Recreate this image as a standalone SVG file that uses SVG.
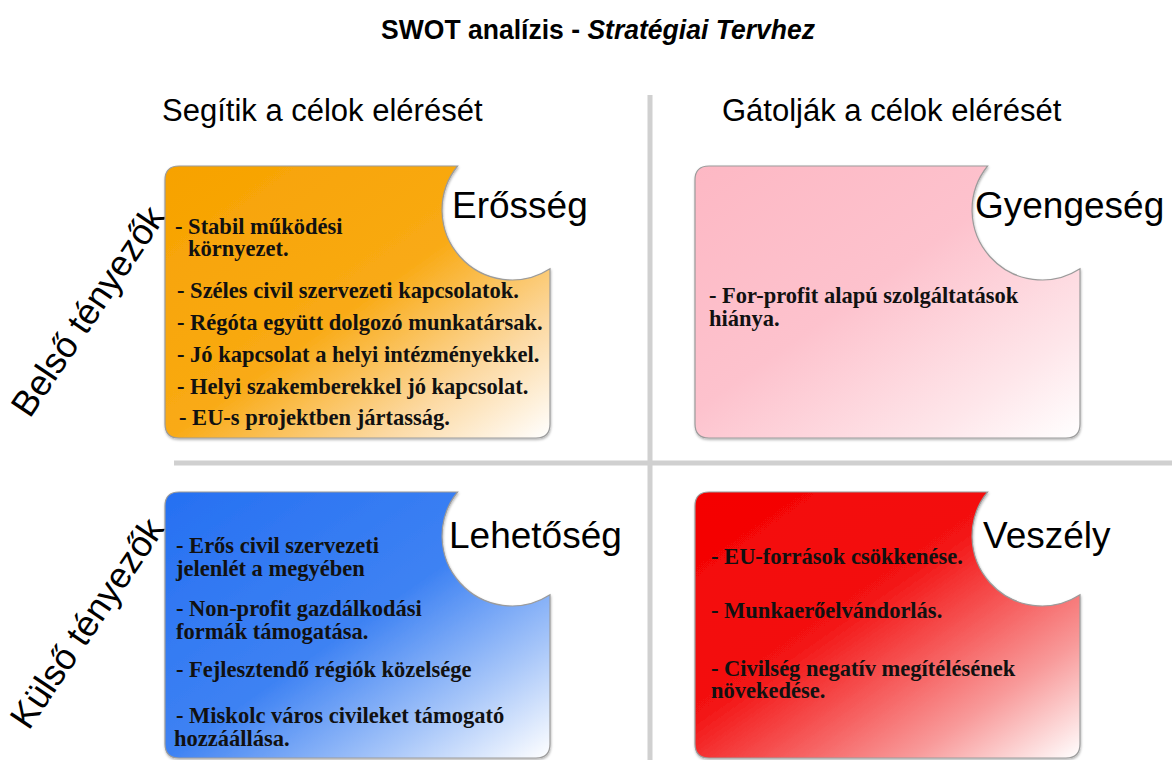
<svg xmlns="http://www.w3.org/2000/svg" width="1172" height="760" viewBox="0 0 1172 760">
<style>
.title{font-family:"Liberation Sans",Arial,sans-serif;font-weight:bold;font-size:28px;fill:#000}
.head{font-family:"Liberation Sans",Arial,sans-serif;font-size:31px;fill:#000}
.side{font-family:"Liberation Sans",Arial,sans-serif;font-size:36px;fill:#000}
.lbl{font-family:"Liberation Sans",Arial,sans-serif;font-size:37px;fill:#000}
.body{font-family:"Liberation Serif","Times New Roman",serif;font-weight:bold;font-size:22.5px;fill:#111}
.card{stroke:#9b9b9b;stroke-width:1.2;filter:url(#sh)}
.div{stroke:#d0d0d0;stroke-width:5;fill:none}
</style>
<defs>
<filter id="sh" x="-5%" y="-5%" width="110%" height="110%">
<feDropShadow dx="0.5" dy="1.5" stdDeviation="1" flood-color="#000" flood-opacity="0.3"/>
</filter>
<path id="cardT" d="M14,0 H292.6 A70,70 0 0 0 385,102.8 V258 Q385,272 371,272 H14 Q0,272 0,258 V14 Q0,0 14,0 Z"/>
<path id="cardB" d="M14,0 H292.6 A70,70 0 0 0 385,102.8 V252 Q385,266 371,266 H14 Q0,266 0,252 V14 Q0,0 14,0 Z"/>
<linearGradient id="gO" x1="0" y1="0" x2="1" y2="1">
<stop offset="0" stop-color="#F7A200"/><stop offset="0.5" stop-color="#F9AA14"/><stop offset="0.78" stop-color="#FCD9A2"/><stop offset="1" stop-color="#FFFFFF"/>
</linearGradient>
<linearGradient id="gP" x1="0" y1="0" x2="1" y2="1">
<stop offset="0" stop-color="#FDB8C4"/><stop offset="0.45" stop-color="#FDC2CD"/><stop offset="0.8" stop-color="#FEE6EA"/><stop offset="1" stop-color="#FFFFFF"/>
</linearGradient>
<linearGradient id="gB" x1="0" y1="0" x2="1" y2="1">
<stop offset="0" stop-color="#2670F2"/><stop offset="0.5" stop-color="#3E82F3"/><stop offset="0.78" stop-color="#A7C6F9"/><stop offset="1" stop-color="#FFFFFF"/>
</linearGradient>
<linearGradient id="gR" x1="0" y1="0" x2="1" y2="1">
<stop offset="0" stop-color="#F50000"/><stop offset="0.42" stop-color="#F31212"/><stop offset="0.78" stop-color="#F89A9A"/><stop offset="1" stop-color="#FFFFFF"/>
</linearGradient>
</defs>
<rect width="1172" height="760" fill="#fff"/>
<text class="title" x="598" y="39" text-anchor="middle" textLength="434" lengthAdjust="spacingAndGlyphs">SWOT analízis - <tspan font-style="italic">Stratégiai Tervhez</tspan></text>
<g id="dividers">
<line class="div" x1="650" y1="95" x2="650" y2="760"/>
<line class="div" x1="174" y1="463" x2="1172" y2="463"/>
</g>
<text class="head" x="162" y="121">Segítik a célok elérését</text>
<text class="head" x="722" y="121">Gátolják a célok elérését</text>
<text class="side" x="98" y="318" text-anchor="middle" transform="rotate(-56 98 318)">Belső tényezők</text>
<text class="side" x="97" y="630" text-anchor="middle" transform="rotate(-56 97 630)">Külső tényezők</text>
<g id="strength">
<use href="#cardT" class="card" fill="url(#gO)" transform="translate(165,166)"/>
<text class="lbl" x="452" y="218">Erősség</text>
<text class="body" x="175" y="234">- Stabil működési</text>
<text class="body" x="188" y="256">környezet.</text>
<text class="body" x="177" y="298">- Széles civil szervezeti kapcsolatok.</text>
<text class="body" x="177" y="330">- Régóta együtt dolgozó munkatársak.</text>
<text class="body" x="177" y="362">- Jó kapcsolat a helyi intézményekkel.</text>
<text class="body" x="177" y="394">- Helyi szakemberekkel jó kapcsolat.</text>
<text class="body" x="179" y="425">- EU-s projektben jártasság.</text>
</g>
<g id="weakness">
<use href="#cardT" class="card" fill="url(#gP)" transform="translate(695,166)"/>
<text class="lbl" x="975" y="218">Gyengeség</text>
<text class="body" x="709" y="303">- For-profit alapú szolgáltatások</text>
<text class="body" x="709" y="326">hiánya.</text>
</g>
<g id="opportunity">
<use href="#cardB" class="card" fill="url(#gB)" transform="translate(165,492)"/>
<text class="lbl" x="449" y="548">Lehetőség</text>
<text class="body" x="176" y="553">- Erős civil szervezeti</text>
<text class="body" x="176" y="576">jelenlét a megyében</text>
<text class="body" x="176" y="616">- Non-profit gazdálkodási</text>
<text class="body" x="176" y="639">formák támogatása.</text>
<text class="body" x="176" y="677">- Fejlesztendő régiók közelsége</text>
<text class="body" x="176" y="723">- Miskolc város civileket támogató</text>
<text class="body" x="174" y="746">hozzáállása.</text>
</g>
<g id="threat">
<use href="#cardB" class="card" fill="url(#gR)" transform="translate(695,492)"/>
<text class="lbl" x="983" y="548">Veszély</text>
<text class="body" x="711" y="564">- EU-források csökkenése.</text>
<text class="body" x="711" y="618">- Munkaerőelvándorlás.</text>
<text class="body" x="711" y="676">- Civilség negatív megítélésének</text>
<text class="body" x="711" y="698">növekedése.</text>
</g>
</svg>
